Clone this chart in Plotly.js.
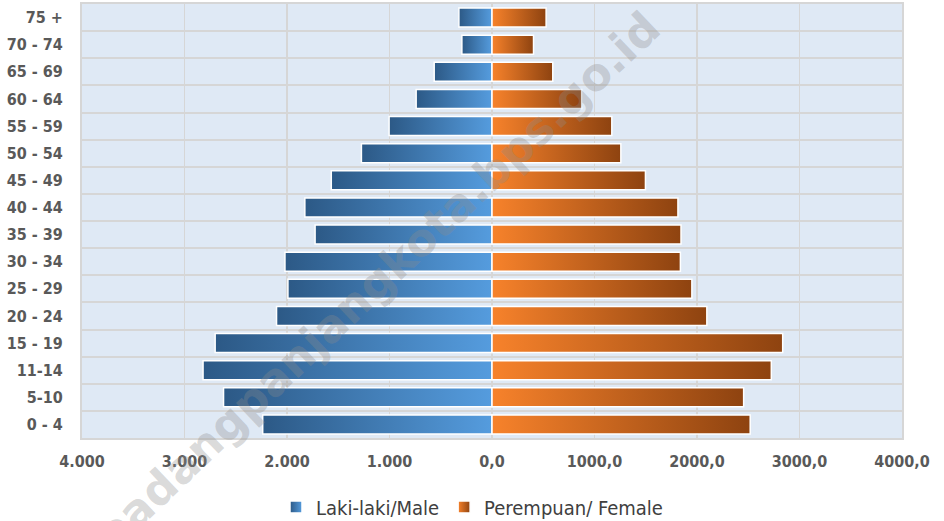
<!DOCTYPE html>
<html>
<head>
<meta charset="utf-8">
<script src="https://cdn.plot.ly/plotly-3.0.1.min.js"></script>
<style>html,body{margin:0;padding:0;background:#fff;}#chart{width:944px;height:521px;}</style>
</head>
<body>
<div id="chart"></div>
<script>
// Age groups, bottom to top
const ageGroups = ["0 - 4", "5-10", "11-14", "15 - 19", "20 - 24", "25 - 29", "30 - 34", "35 - 39",
  "40 - 44", "45 - 49", "50 - 54", "55 - 59", "60 - 64", "65 - 69", "70 - 74", "75 +"];
const maleValues = [2237, 2619, 2819, 2701, 2102, 1991, 2020, 1726, 1826, 1568, 1274, 1004, 740, 564, 294, 323];
const femaleValues = [2519, 2455, 2725, 2836, 2096, 1950, 1838, 1844, 1814, 1497, 1257, 1169, 875, 593, 405, 528];
const xTickValues = [-4000, -3000, -2000, -1000, 0, 1000, 2000, 3000, 4000];
const xTickLabels = ["4.000", "3.000", "2.000", "1.000", "0,0", "1000,0", "2000,0", "3000,0", "4000,0"];
const maleName = "Laki-laki/Male";
const femaleName = "Perempuan/ Female";
const watermark = "padangpanjangkota.bps.go.id";

const fontFam = "'Liberation Sans Narrow', 'DejaVu Sans Condensed', 'Open Sans', sans-serif";

const traces = [
  {
    type: "bar", orientation: "h", name: maleName,
    y: ageGroups, x: maleValues.map(v => -v),
    marker: {color: "#3F7AB8", line: {color: "#ffffff", width: 1.5}},
    hoverinfo: "skip"
  },
  {
    type: "bar", orientation: "h", name: femaleName,
    y: ageGroups, x: femaleValues,
    marker: {color: "#C45E19", line: {color: "#ffffff", width: 1.5}},
    hoverinfo: "skip"
  }
];

const layout = {
  width: 944, height: 521,
  margin: {l: 82, r: 42, t: 4, b: 83, autoexpand: false},
  paper_bgcolor: "#ffffff",
  plot_bgcolor: "#DFE9F5",
  barmode: "relative",
  bargap: 0.3,
  showlegend: true,
  legend: {
    orientation: "h", xref: "container", yref: "container",
    x: 0.5, xanchor: "center", y: 0.027, yanchor: "middle",
    font: {family: fontFam, size: 20, color: "#404040"},
    itemwidth: 30, traceorder: "normal"
  },
  xaxis: {
    range: [-4000, 4000],
    tickvals: xTickValues, ticktext: xTickLabels,
    showgrid: true, gridcolor: "#D6D6D6", gridwidth: 1.5,
    zeroline: false,
    showline: true, linecolor: "#D6D6D6", linewidth: 2, mirror: true,
    ticks: "", ticklabelstandoff: 8,
    tickfont: {family: fontFam, size: 16, color: "#595959", weight: "bold"},
    fixedrange: true
  },
  yaxis: {
    type: "category", categoryorder: "array", categoryarray: ageGroups,
    tickson: "boundaries",
    showgrid: true, gridcolor: "#D6D6D6", gridwidth: 2,
    showline: true, linecolor: "#D6D6D6", linewidth: 2, mirror: true,
    ticks: "", ticklabelstandoff: 14,
    tickfont: {family: fontFam, size: 16, color: "#595959", weight: "bold"},
    fixedrange: true
  },
  annotations: [{
    text: watermark, xref: "paper", yref: "paper", x: 0.36, y: 0.36,
    showarrow: false, textangle: -43.5,
    font: {family: "'DejaVu Sans', sans-serif", size: 45, color: "rgba(140,140,140,0.32)", weight: "bold"}
  }]
};

Plotly.newPlot("chart", traces, layout, {displayModeBar: false, staticPlot: true}).then(function (gd) {
  const svg = gd.querySelector("svg.main-svg");
  let defs = svg.querySelector("defs");
  const ns = "http://www.w3.org/2000/svg";
  function addGrad(id, c1, c2) {
    const g = document.createElementNS(ns, "linearGradient");
    g.setAttribute("id", id);
    g.setAttribute("x1", "0"); g.setAttribute("y1", "0");
    g.setAttribute("x2", "1"); g.setAttribute("y2", "0");
    [[0, c1], [1, c2]].forEach(function (s) {
      const st = document.createElementNS(ns, "stop");
      st.setAttribute("offset", s[0]);
      st.setAttribute("stop-color", s[1]);
      g.appendChild(st);
    });
    defs.appendChild(g);
  }
  addGrad("gradMale", "#2C5986", "#559CDE");
  addGrad("gradFemale", "#F7822B", "#8E4310");
  const grads = ["url(#gradMale)", "url(#gradFemale)"];
  gd.querySelectorAll(".barlayer .trace").forEach(function (tr, i) {
    tr.querySelectorAll("path").forEach(function (p) { p.style.fill = grads[i]; });
  });
  gd.querySelectorAll(".legend .traces").forEach(function (tr, i) {
    tr.querySelectorAll(".legendpoints path").forEach(function (p) { p.style.fill = grads[i]; });
  });
});
</script>
</body>
</html>
